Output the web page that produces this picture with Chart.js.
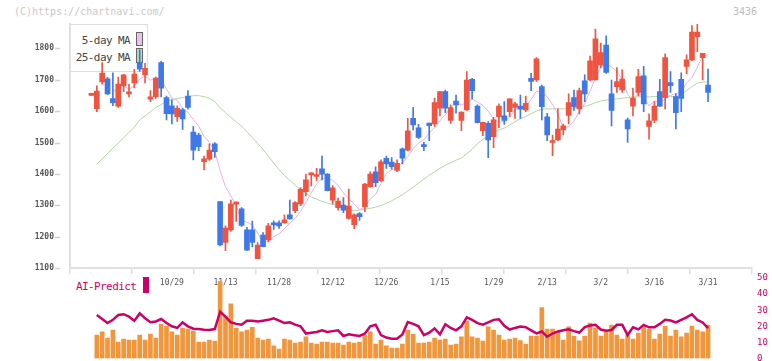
<!DOCTYPE html>
<html><head><meta charset="utf-8">
<script src="https://cdn.jsdelivr.net/npm/chart.js@4.4.1/dist/chart.umd.min.js"></script>
<style>
html,body{margin:0;padding:0;background:#fff;overflow:hidden;width:772px;height:361px;}
#wrap{position:relative;width:772px;height:361px;}
canvas{position:absolute;left:0;top:0;}
.t{position:absolute;font-family:"DejaVu Sans Mono",monospace;white-space:nowrap;line-height:1;}
</style></head><body>
<div id="wrap">
 <div class="t" style="left:14px;top:7px;font-size:10px;color:#c8c8c8">(C)https://chartnavi.com/</div>
 <div class="t" style="left:733px;top:7px;font-size:10px;color:#bbbbbb">3436</div>
 <div style="position:absolute;left:70px;top:24px;width:77px;height:46px;border-top:1px solid #ddd;border-right:1px solid #ddd;border-bottom:1px solid #ddd;"></div>
 <div class="t" style="right:642px;top:35px;font-size:11px;letter-spacing:-0.6px;color:#444">5-day MA</div>
 <div class="t" style="right:642px;top:52px;font-size:11px;letter-spacing:-0.6px;color:#444">25-day MA</div>
 <div style="position:absolute;left:136px;top:32px;width:5px;height:12px;background:#ecc0ec;border:1px solid #666;"></div>
 <div style="position:absolute;left:136px;top:48px;width:5px;height:13px;background:#b8dcb0;border:1px solid #666;"></div>
 <div class="t" style="left:76px;top:281px;font-size:11px;letter-spacing:-0.6px;color:#cc0066">AI-Predict</div>
 <div style="position:absolute;left:143px;top:277px;width:6px;height:16px;background:#cc0066;"></div>
 <canvas id="c1" width="772" height="361"></canvas>
 <canvas id="c2" width="772" height="361"></canvas>
</div>
<script>
const dates = ['10/7','10/8','10/9','10/10','10/14','10/15','10/16','10/17','10/20','10/21',
 '10/22','10/23','10/24','10/27','10/28','10/29','10/30','10/31','11/4','11/5',
 '11/6','11/7','11/10','11/11','11/12','11/13','11/14','11/17','11/18','11/19',
 '11/20','11/21','11/25','11/26','11/27','11/28','12/1','12/2','12/3','12/4',
 '12/5','12/8','12/9','12/10','12/11','12/12','12/15','12/16','12/17','12/18',
 '12/19','12/22','12/23','12/24','12/25','12/26','12/29','12/30','1/5','1/6',
 '1/7','1/8','1/9','1/13','1/14','1/15','1/16','1/19','1/20','1/21',
 '1/22','1/23','1/26','1/27','1/28','1/29','1/30','2/2','2/3','2/4',
 '2/5','2/6','2/9','2/10','2/12','2/13','2/16','2/17','2/18','2/19',
 '2/20','2/24','2/25','2/26','2/27','3/2','3/3','3/4','3/5','3/6',
 '3/9','3/10','3/11','3/12','3/13','3/16','3/17','3/18','3/19','3/23',
 '3/24','3/25','3/26','3/27','3/30','3/31'];
const tickLabels = ['10/29','11/13','11/28','12/12','12/26','1/15','1/29','2/13','3/2','3/16','3/31'];
const yTicks = [1100,1200,1300,1400,1500,1600,1700,1800];
const aiTicks = [0,10,20,30,40,50];

const open = [1650,1608,1693,1703,1640,1616,1681,1655,1690,1754,
 1715,1638,1646,1754,1643,1617,1582,1604,1648,1533,
 1524,1439,1447,1496,1312,1182,1222,1304,1289,1222,
 1222,1131,1206,1190,1245,1245,1245,1270,1283,1305,
 1344,1397,1392,1416,1400,1317,1293,1301,1259,1239,
 1274,1296,1360,1407,1379,1450,1438,1411,1480,1476,
 1577,1547,1492,1562,1559,1609,1662,1570,1632,1570,
 1604,1701,1616,1538,1561,1519,1582,1585,1598,1612,
 1616,1604,1704,1699,1678,1582,1500,1508,1540,1586,
 1643,1607,1696,1699,1699,1747,1810,1655,1678,1667,
 1572,1616,1659,1712,1551,1570,1662,1643,1691,1646,
 1701,1742,1763,1837,1770,1683];
const close = [1650,1664,1721,1655,1627,1686,1715,1660,1718,1733,
 1736,1645,1705,1673,1592,1591,1609,1575,1612,1476,
 1487,1448,1476,1471,1174,1228,1305,1310,1236,1158,
 1182,1174,1169,1235,1238,1235,1254,1257,1309,1351,
 1381,1400,1397,1399,1347,1356,1314,1285,1298,1270,
 1264,1368,1400,1372,1439,1432,1423,1434,1450,1537,
 1556,1516,1487,1554,1627,1662,1609,1611,1620,1597,
 1699,1665,1563,1564,1508,1572,1616,1570,1639,1623,
 1606,1625,1694,1766,1614,1524,1505,1543,1553,1627,
 1614,1665,1655,1760,1830,1786,1723,1602,1694,1702,
 1543,1641,1710,1623,1569,1616,1616,1770,1681,1595,
 1640,1763,1851,1851,1784,1659];
const high = [1650,1680,1754,1707,1722,1708,1717,1685,1733,1795,
 1752,1665,1708,1758,1648,1636,1617,1609,1665,1551,
 1530,1457,1496,1500,1312,1235,1317,1312,1293,1230,
 1250,1182,1214,1243,1251,1251,1270,1317,1312,1357,
 1400,1404,1418,1457,1401,1363,1323,1325,1352,1273,
 1277,1370,1407,1423,1445,1457,1452,1445,1482,1577,
 1612,1558,1501,1562,1641,1663,1667,1620,1651,1598,
 1726,1704,1620,1565,1567,1580,1623,1630,1639,1628,
 1651,1648,1720,1770,1683,1593,1524,1607,1559,1655,
 1667,1673,1715,1775,1861,1816,1839,1699,1738,1731,
 1578,1673,1733,1742,1591,1630,1701,1782,1726,1655,
 1722,1779,1872,1877,1784,1734];
const low = [1650,1598,1686,1652,1617,1612,1662,1645,1674,1726,
 1690,1630,1640,1645,1572,1559,1567,1542,1606,1445,
 1474,1413,1443,1453,1171,1156,1217,1249,1233,1157,
 1169,1131,1168,1185,1224,1227,1243,1256,1277,1299,
 1330,1362,1379,1381,1346,1305,1285,1277,1256,1226,
 1252,1280,1358,1360,1376,1418,1415,1407,1432,1473,
 1540,1513,1474,1506,1551,1585,1595,1561,1593,1538,
 1602,1639,1562,1522,1452,1484,1547,1558,1582,1577,
 1577,1598,1665,1694,1572,1506,1458,1506,1524,1559,
 1602,1591,1630,1696,1699,1738,1720,1553,1659,1659,
 1500,1585,1648,1598,1511,1563,1614,1607,1659,1543,
 1598,1718,1760,1789,1699,1630];
const ma5 = [null,null,null,null,1663,1671,1681,1669,1681,1702,
 1712,1698,1707,1698,1670,1641,1634,1608,1596,1573,
 1552,1520,1500,1472,1411,1359,1331,1298,1251,1247,
 1238,1212,1184,1184,1200,1210,1226,1244,1259,1281,
 1310,1340,1368,1386,1385,1380,1363,1340,1320,1305,
 1286,1297,1320,1335,1369,1402,1413,1420,1436,1455,
 1480,1499,1509,1530,1548,1569,1588,1613,1626,1620,
 1627,1638,1629,1618,1600,1574,1565,1566,1581,1604,
 1611,1613,1637,1663,1661,1645,1621,1590,1548,1550,
 1568,1600,1623,1664,1705,1739,1751,1740,1727,1701,
 1653,1636,1658,1644,1617,1632,1627,1639,1650,1656,
 1660,1690,1706,1740,1775,1779];
const ma25 = [null,1431,1448,1465,1482,1498,1515,1532,1549,1572,
 1585,1598,1611,1621,1630,1636,1640,1643,1646,1649,
 1649,1646,1641,1630,1610,1595,1580,1566,1552,1535,
 1516,1497,1478,1456,1435,1414,1395,1380,1364,1350,
 1338,1327,1320,1313,1307,1303,1299,1294,1286,1283,
 1285,1289,1291,1294,1300,1307,1315,1324,1334,1346,
 1358,1371,1384,1396,1407,1418,1428,1436,1444,1451,
 1465,1478,1496,1510,1522,1531,1540,1546,1556,1566,
 1576,1583,1592,1600,1606,1607,1607,1607,1607,1608,
 1610,1612,1615,1620,1627,1632,1635,1637,1639,1641,
 1643,1645,1645,1646,1645,1646,1647,1648,1647,1645,
 1652,1665,1678,1689,1692,1693];
const volume = [null,14.6,16.5,12.7,17.7,10.2,12.1,11.5,11.5,14.6,
 11.5,15.2,12.7,21.4,20.2,16.5,14.6,18.9,18.3,17.1,
 10.2,10.2,11.5,10.8,48,26.4,33.9,18.9,16.5,17.7,
 19.3,12.7,11.5,12.1,7.8,5.9,12.1,11.5,9.6,10.2,
 13.4,9.6,9,10.2,10.2,9.6,9.6,8.3,10.2,9.6,
 10.2,14.6,16.5,9,11.5,7.8,6.5,6.5,9,17.7,
 15.2,9.6,9.6,10.2,12.7,11.5,12.1,8.3,9,13.4,
 23.3,13.4,12.7,10.8,19.6,17.7,14.6,11.5,12,12.7,
 11.1,9,14,14,31.6,18.3,18.3,16.5,11.5,19.6,
 14,11,14,22,18.9,14,16.5,20.8,14.6,12.1,
 14.6,12.1,15.8,19.6,18.3,12.1,15.2,20.2,14,17.7,
 13.4,15.8,20.2,17.7,16.5,20.8];
const aiPredict = [null,27,24.5,22,24,27,27.5,26,23.5,28,
 25,22.5,23,24.5,22,20,19,22.4,20,18.5,
 18.3,17.8,17.7,18.3,29,26,22.5,21.5,21,23.5,
 23.5,23,23.5,24,25,23.5,22,22.5,21,20,
 15.5,16,16.5,17.5,16.5,17,17.5,14,15,14.5,
 14,15.5,20,21,14.5,13,12.3,12.3,15,22.7,
 21.5,20,14.5,16,18.7,15,21.3,19,17.5,20,
 25.6,24,22,21,22.5,24,24.4,20.3,18,19,
 19.8,19.4,17.5,15.6,16.8,13.5,15.5,16.8,17.5,18.1,
 17,16.1,19.5,20.5,20.9,18,17.3,17.7,20.9,20.9,
 14.6,19.4,18.1,20.9,19.4,19.4,21.5,24,23.6,22.4,
 24,25.5,27.5,24,22.4,18.9];

const UP = '#f05440', DOWN = '#3f78e8';
const candleColor = ctx => close[ctx.dataIndex] >= open[ctx.dataIndex] ? UP : DOWN;
const X_MIN = -4, X_MAX = 123.2;
const tickIdx = tickLabels.map(l => dates.indexOf(l));
const FONT = "'DejaVu Sans Mono', monospace";

const yDash = {
  id: 'yDash',
  afterDraw(c) {
    const s = c.scales.y, ctx = c.ctx;
    ctx.save(); ctx.strokeStyle = '#cfcfcf'; ctx.lineWidth = 1.5;
    yTicks.forEach(v => {
      const y = Math.round(s.getPixelForValue(v)) + 0.5;
      ctx.beginPath(); ctx.moveTo(s.right - 15, y); ctx.lineTo(s.right - 10, y); ctx.stroke();
    });
    ctx.restore();
  }
};

new Chart(document.getElementById('c1'), {
  type: 'bar',
  data: { datasets: [
    { type: 'line', data: ma5.map((v, i) => ({ x: i, y: v })), borderColor: '#e6b0e6', borderWidth: 1, pointRadius: 0, order: 3 },
    { type: 'line', data: ma25.map((v, i) => ({ x: i, y: v })), borderColor: '#b0d8a2', borderWidth: 1, pointRadius: 0, order: 3 },
    { data: low.map((v, i) => ({ x: i, y: [v, high[i]] })), backgroundColor: candleColor, barThickness: 1, grouped: false, minBarLength: 1, order: 2 },
    { data: open.map((v, i) => ({ x: i, y: [v, close[i]] })), backgroundColor: candleColor, barThickness: 5, grouped: false, minBarLength: 2, order: 1 }
  ]},
  options: {
    responsive: false, animation: false, devicePixelRatio: 1,
    layout: { padding: { top: 24, right: 20, left: 0, bottom: 0 } },
    plugins: { legend: { display: false }, tooltip: { enabled: false } },
    scales: {
      x: {
        type: 'linear', min: X_MIN, max: X_MAX, offset: false, position: 'bottom', weight: 1,
        grid: { display: false, drawTicks: false, offset: false }, border: { display: false },
        afterBuildTicks: s => { s.ticks = tickIdx.map(v => ({ value: v })); },
        afterFit: s => { s.height = 86.7; },
        ticks: { autoSkip: false, maxRotation: 0, padding: 3.4, color: '#555', font: { family: FONT, size: 8 },
          callback: v => dates[v] }
      },
      xt: {
        type: 'linear', min: 0, max: 11, offset: false, position: 'bottom', weight: 0,
        grid: { drawOnChartArea: false, tickLength: 6, color: '#dddddd', lineWidth: 1.5, offset: false },
        border: { display: true, color: '#e0e0e0', width: 2 },
        ticks: { display: false, stepSize: 1 },
        afterFit: s => { s.height = 6; }
      },
      y: {
        min: 1100, max: Math.max(...high), position: 'left',
        afterBuildTicks: s => { s.ticks = yTicks.map(v => ({ value: v })); },
        afterFit: s => { s.width = 70; s.paddingTop = 0; s.paddingBottom = 0; },
        grid: { drawOnChartArea: false, drawTicks: false },
        border: { display: true, color: '#e0e0e0', width: 2 },
        ticks: { padding: 16, color: '#555', font: { family: FONT, size: 8, weight: 'bold' }, callback: v => String(v) }
      }
    }
  },
  plugins: [yDash]
});

new Chart(document.getElementById('c2'), {
  type: 'bar',
  data: { datasets: [
    { type: 'line', data: aiPredict.map((v, i) => ({ x: i, y: v })), borderColor: '#cc0066', borderWidth: 2.5, pointRadius: 0, order: 1 },
    { data: volume.map((v, i) => ({ x: i, y: v })), backgroundColor: '#f0963c', barThickness: 4, order: 2 }
  ]},
  options: {
    responsive: false, animation: false, devicePixelRatio: 1,
    layout: { padding: { top: 278, right: 0, left: 70, bottom: 2.5 } },
    plugins: { legend: { display: false }, tooltip: { enabled: false } },
    scales: {
      x: { type: 'linear', min: X_MIN, max: X_MAX, offset: false, display: false, grid: { offset: false } },
      y: {
        position: 'right', min: 0, max: 50,
        afterBuildTicks: s => { s.ticks = aiTicks.map(v => ({ value: v })); },
        afterFit: s => { s.width = 20; s.paddingTop = 0; s.paddingBottom = 0; },
        grid: { display: false, drawTicks: false }, border: { display: false },
        ticks: { padding: 5, color: '#cc0066', font: { family: FONT, size: 9 }, callback: v => String(v) }
      }
    }
  }
});
</script>
</body></html>
